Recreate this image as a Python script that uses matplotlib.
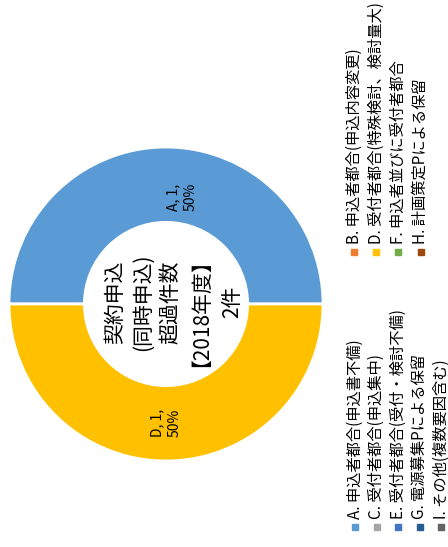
import numpy as np
import matplotlib.pyplot as plt

plt.rcParams['font.family'] = ['Noto Sans CJK JP', 'DejaVu Sans']

# data
slice_names = ['A', 'D']
slice_counts = [1, 1]
slice_colors = ['#5B9BD5', '#FFC000']

center_lines = ['契約申込', '(同時申込)', '超過件数', '【2018年度】', '2件']

legend_left = ['A. 申込者都合(申込書不備)', 'C. 受付者都合(申込集中)',
               'E. 受付者都合(受付・検討不備)', 'G. 電源募集Pによる保留',
               'I. その他(複数要因含む)']
legend_left_colors = ['#5B9BD5', '#A5A5A5', '#4472C4', '#255E91', '#636363']
legend_right = ['B. 申込者都合(申込内容変更)', 'D. 受付者都合(特殊検討、検討量大)',
                'F. 申込者並びに受付者都合', 'H. 計画策定Pによる保留']
legend_right_colors = ['#ED7D31', '#FFC000', '#70AD47', '#9E480E']

W, H = 448, 547
fig = plt.figure(figsize=(W / 100, H / 100), dpi=100)

# donut (whole chart is turned 90 degrees)
cx, cy, r = 166, 304, 157
ax = fig.add_axes([(cx - r) / W, (H - cy - r) / H, 2 * r / W, 2 * r / H])
wedges, _ = ax.pie(slice_counts, colors=slice_colors, startangle=0, counterclock=True,
                   radius=1, wedgeprops=dict(width=0.48, edgecolor='white', linewidth=2))
ax.set_xlim(-1, 1)
ax.set_ylim(-1, 1)
ax.axis('off')

total = sum(slice_counts)
nudges = [(0.1, -0.08), (0.0, 0.0)]
for w, name, n, nd in zip(wedges, slice_names, slice_counts, nudges):
    mid = np.deg2rad((w.theta1 + w.theta2) / 2)
    x = 0.76 * np.cos(mid) + nd[0]
    y = 0.76 * np.sin(mid) + nd[1]
    ax.text(x, y, f'{name}, {n},\n{n / total:.0%}', rotation=90,
            ha='center', va='center', fontsize=10, linespacing=1.3)

# centre title, one rotated column per line (offsets in px from centre)
col_dx = [-53, -26, 2, 22, 64]
for dx, line in zip(col_dx, center_lines):
    ax.text(dx / r, 0.013, line, rotation=90, rotation_mode='anchor',
            ha='center', va='center_baseline', fontsize=15)

# legend drawn by hand, rotated
lg = fig.add_axes([0, 0, 1, 1])
lg.set_xlim(0, W)
lg.set_ylim(H, 0)
lg.axis('off')

left_x = [355, 376.5, 398, 419.5, 441]
for x, txt, c in zip(left_x, legend_left, legend_left_colors):
    lg.plot(x, 527, marker='s', markersize=4.5, color=c, linestyle='none')
    lg.text(x, 519, txt, rotation=90, ha='center', va='bottom', fontsize=11)

right_x = [354, 376, 398, 420.5]
for x, txt, c in zip(right_x, legend_right, legend_right_colors):
    lg.plot(x, 252, marker='s', markersize=4.5, color=c, linestyle='none')
    lg.text(x, 244, txt, rotation=90, ha='center', va='bottom', fontsize=11)

fig.savefig('out.png', dpi=100)
